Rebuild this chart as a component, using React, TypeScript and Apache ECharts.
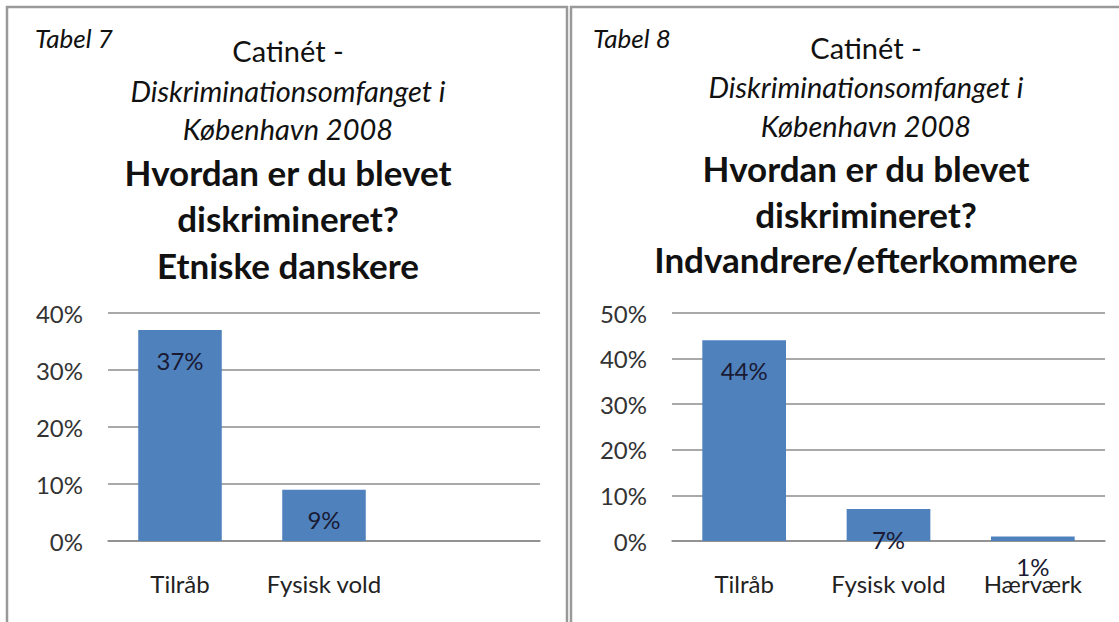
import React, { useEffect, useRef } from "react";
import * as echarts from "echarts";

const leftCategories = ["Tilråb", "Fysisk vold", ""];
const leftValues: (number | null)[] = [37, 9, null];
const rightCategories = ["Tilråb", "Fysisk vold", "Hærværk"];
const rightValues = [44, 7, 1];
const leftTitle = ["Catinét -", "Diskriminationsomfanget i", "København 2008", "Hvordan er du blevet", "diskrimineret?", "Etniske danskere"];
const rightTitle = ["Catinét -", "Diskriminationsomfanget i", "København 2008", "Hvordan er du blevet", "diskrimineret?", "Indvandrere/efterkommere"];

const FONT = "Lato, 'Open Sans', sans-serif";
const BAR = "#4F81BD";
const GRID = "#8c8c8c";

function titleTexts(lines: string[], cx: number, tag: string, tagX: number, ys: number[]) {
  const styles = [
    { fontSize: 29, fontStyle: "normal", fontWeight: "normal" },
    { fontSize: 29, fontStyle: "italic", fontWeight: "normal" },
    { fontSize: 29, fontStyle: "italic", fontWeight: "normal" },
    { fontSize: 35, fontStyle: "normal", fontWeight: "bold" },
    { fontSize: 35, fontStyle: "normal", fontWeight: "bold" },
    { fontSize: 35, fontStyle: "normal", fontWeight: "bold" },
  ];
  const els: any[] = lines.map((t, i) => ({
    type: "text",
    x: cx,
    y: ys[i],
    style: {
      text: t,
      fill: "#111",
      font: `${styles[i].fontStyle} ${styles[i].fontWeight} ${styles[i].fontSize}px ${FONT}`,
      textAlign: "center",
      textVerticalAlign: "middle",
    },
  }));
  els.push({
    type: "text",
    x: tagX,
    y: 38,
    style: {
      text: tag,
      fill: "#111",
      font: `italic normal 26px ${FONT}`,
      textAlign: "left",
      textVerticalAlign: "middle",
    },
  });
  return els;
}

export default function App() {
  const ref = useRef<HTMLDivElement>(null);
  useEffect(() => {
    if (!ref.current) return;
    const chart = echarts.init(ref.current, null, { renderer: "svg" });
    const yAxisCommon = {
      type: "value" as const,
      interval: 10,
      min: 0,
      axisLine: { show: false },
      axisTick: { show: false },
      splitLine: { lineStyle: { color: GRID, width: 1.5 } },
      axisLabel: { formatter: "{value}%", color: "#333", fontSize: 24, fontFamily: FONT, margin: 25 },
    };
    const xAxisCommon = {
      type: "category" as const,
      axisLine: { lineStyle: { color: GRID, width: 1.5 } },
      axisTick: { show: false },
      axisLabel: { color: "#222", fontSize: 24, fontFamily: FONT, margin: 30, interval: 0 },
    };
    const labelCommon = {
      show: true,
      position: "insideTop" as const,
      distance: 18,
      formatter: "{c}%",
      color: "#1a1a33",
      fontSize: 24,
      fontFamily: FONT,
    };
    chart.setOption({
      animation: false,
      backgroundColor: "#fff",
      grid: [
        { left: 108, width: 432, top: 313, height: 228 },
        { left: 672, width: 433, top: 313, height: 228 },
      ],
      xAxis: [
        { ...xAxisCommon, gridIndex: 0, data: leftCategories },
        { ...xAxisCommon, gridIndex: 1, data: rightCategories },
      ],
      yAxis: [
        { ...yAxisCommon, gridIndex: 0, max: 40 },
        { ...yAxisCommon, gridIndex: 1, max: 50 },
      ],
      series: [
        { type: "bar", xAxisIndex: 0, yAxisIndex: 0, data: leftValues, barWidth: "58%", itemStyle: { color: BAR }, label: labelCommon },
        { type: "bar", xAxisIndex: 1, yAxisIndex: 1, data: rightValues, barWidth: "58%", itemStyle: { color: BAR }, label: labelCommon },
      ],
      graphic: [
        { type: "rect", shape: { x: 7, y: 7, width: 560, height: 630 }, style: { fill: "none", stroke: "#999", lineWidth: 2.5 }, silent: true },
        { type: "rect", shape: { x: 571, y: 7, width: 560, height: 630 }, style: { fill: "none", stroke: "#999", lineWidth: 2.5 }, silent: true },
        ...titleTexts(leftTitle, 288, "Tabel 7", 35, [50, 90, 128, 172, 218, 265]),
        ...titleTexts(rightTitle, 866, "Tabel 8", 593, [47, 86, 125, 168, 214, 259]),
      ],
    });
    return () => chart.dispose();
  }, []);
  return <div ref={ref} style={{ position: "fixed", left: 0, top: 0, width: 1119, height: 622 }} />;
}
